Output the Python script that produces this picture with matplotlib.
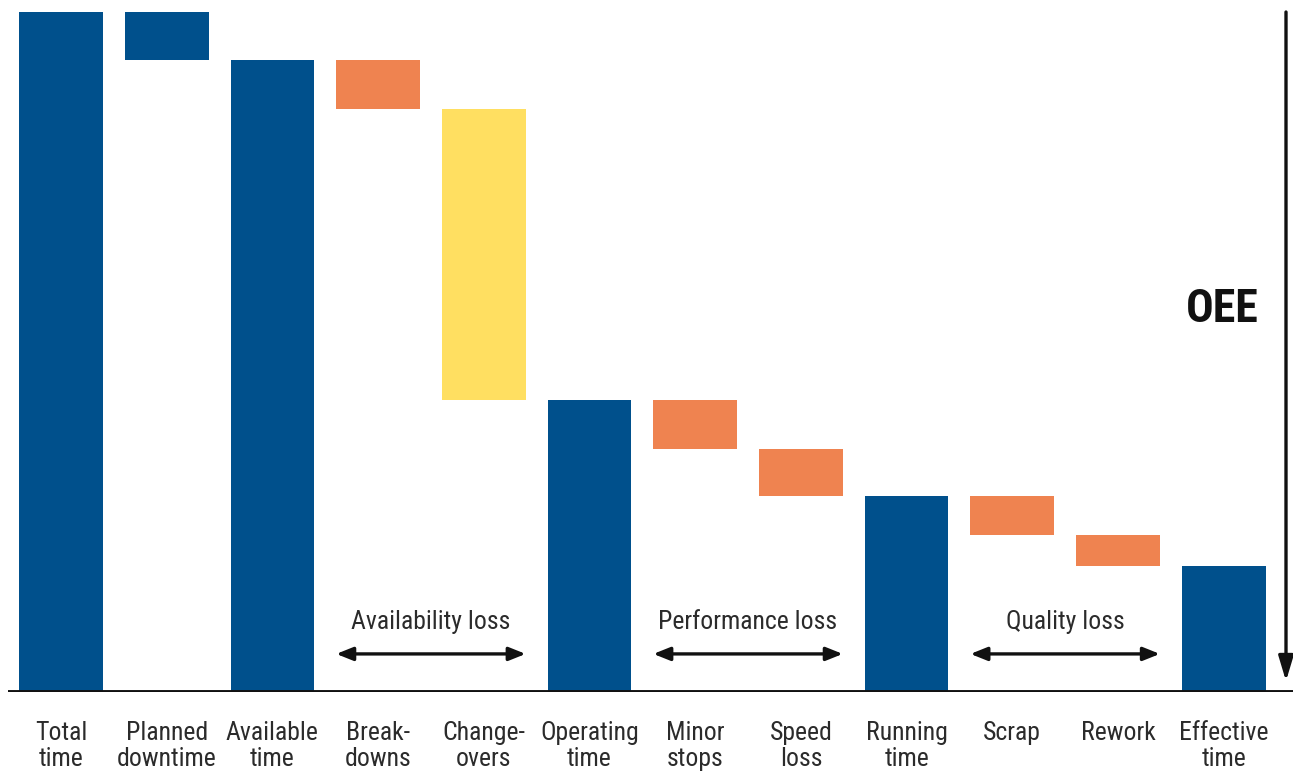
import matplotlib
matplotlib.use("Agg")
import matplotlib.pyplot as plt
import matplotlib.transforms as mtransforms

# ---- data ----
categories = ["Total\ntime", "Planned\ndowntime", "Available\ntime", "Break-\ndowns",
              "Change-\novers", "Operating\ntime", "Minor\nstops", "Speed\nloss",
              "Running\ntime", "Scrap", "Rework", "Effective\ntime"]
values = [100, 7.0, 93.0, 7.2, 42.9, 42.9, 7.2, 6.9, 28.8, 5.7, 4.6, 18.5]
kinds = ["total", "total_loss", "total", "loss", "loss_y", "total", "loss", "loss",
         "total", "loss", "loss", "total"]
groups = ["Availability loss", "Performance loss", "Quality loss"]
group_spans = [(3, 4), (6, 7), (9, 10)]

BLUE = "#00508C"
ORANGE = "#EF8350"
YELLOW = "#FFDF61"
color_map = {"total": BLUE, "total_loss": BLUE, "loss": ORANGE, "loss_y": YELLOW}

FONT = ["Liberation Sans Narrow", "Roboto Condensed", "DejaVu Sans"]
plt.rcParams["font.family"] = FONT

fig = plt.figure(figsize=(12.93, 7.76), dpi=100)
ax = fig.add_axes([0, 84 / 776, 1, 692 / 776])

W = 0.792
level = None
bottoms, heights = [], []
for v, k in zip(values, kinds):
    if k == "total":
        bottoms.append(0)
        heights.append(v)
        level = v
    else:
        bottoms.append(level - v)
        heights.append(v)
        level = level - v
x = list(range(len(categories)))
ax.bar(x, heights, bottom=bottoms, width=W,
       color=[color_map[k] for k in kinds], edgecolor="none", zorder=2)

xmin, xmax = -61 / 105.7, (1293 - 61) / 105.7
ax.set_xlim(xmin, xmax)
ax.set_ylim(0, 100 * 692 / 680)
ax.axis("off")

# baseline
ax.plot([-0.5, xmax], [0, 0], color="#111111", lw=2.8, solid_capstyle="butt", zorder=3)

# category labels
trans = mtransforms.blended_transform_factory(ax.transData, ax.transAxes)
for xi, lab in zip(x, categories):
    ax.text(xi, -29 / 692, lab, transform=trans, ha="center", va="top",
            fontsize=18.5, color="#2b2b2b", linespacing=1.08, fontstretch="condensed")

# group arrows
for g, (a, b) in zip(groups, group_spans):
    ax.annotate("", xy=(b + W / 2, 5.6), xytext=(a - W / 2, 5.6),
                arrowprops=dict(arrowstyle="<|-|>,head_length=1.0,head_width=0.4",
                                lw=2.4, color="#111111", shrinkA=0, shrinkB=0))
    ax.text((a + b) / 2, 10.3, g, ha="center", va="center", fontsize=18.5,
            color="#2b2b2b", fontstretch="condensed")

# OEE arrow
xo = (1286 - 61) / 105.7
ax.annotate("", xy=(xo, 1.6), xytext=(xo, 100),
            arrowprops=dict(arrowstyle="-|>,head_length=1.5,head_width=0.45",
                            lw=2.4, color="#111111", shrinkA=0, shrinkB=0))
ax.text((1222 - 61) / 105.7, (692 - 309) / 6.8, "OEE", ha="center", va="center",
        fontsize=33, fontweight="bold", color="#111111", fontstretch="condensed")

fig.savefig("out.png", dpi=100)
